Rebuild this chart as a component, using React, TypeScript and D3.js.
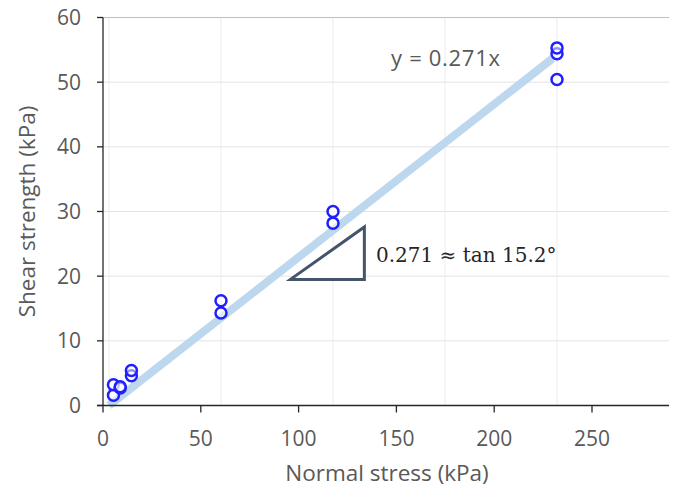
import React from "react";
import * as d3 from "d3";

// Measured normal stress (kPa) and shear strength (kPa)
const normalStress = [2, 2, 5, 5, 10, 10, 50, 50, 100, 100, 200, 200, 200];
const shearStrength = [1.6, 3.2, 2.7, 2.9, 4.6, 5.4, 14.3, 16.2, 28.2, 30.0, 50.4, 54.4, 55.3];
const slope = 0.271;
const fitRange = [0, 198];
const xTicks = [0, 50, 100, 150, 200, 250];
const yTicks = [0, 10, 20, 30, 40, 50, 60];
const dataGrid = [0, 50, 100, 150, 200];
// slope triangle annotation (data units)
const triX = [81, 114];
const triY = [19.5, 27.6];

const W = 688;
const H = 491;

export default function App() {
  // axis labelling scale
  const xAxis = d3.scaleLinear().domain([0, 250]).range([103, 592]);
  // scale of the plotted data
  const x = d3.scaleLinear().domain([0, 200]).range([109, 557]);
  const y = d3.scaleLinear().domain([0, 60]).range([405.5, 17.5]);

  const fit = d3
    .line<number>()
    .x((d) => x(d))
    .y((d) => y(slope * d));

  const tri = d3.line<[number, number]>().x((d) => x(d[0])).y((d) => y(d[1]));
  const triPts: [number, number][] = [
    [triX[0], triY[0]],
    [triX[1], triY[0]],
    [triX[1], triY[1]],
  ];

  const gray = "#595959";
  const font = "'Open Sans', sans-serif";

  return (
    <svg width={W} height={H} style={{ position: "absolute", left: 0, top: 0, background: "#fff" }}>
      {/* gridlines */}
      {yTicks.map((t) => (
        <line key={"gy" + t} x1={xAxis(0)} x2={x(250)} y1={y(t)} y2={y(t)} stroke="#e3e3e3" strokeWidth={1} />
      ))}
      {dataGrid.map((t) => (
        <line key={"gx" + t} x1={x(t)} x2={x(t)} y1={y(60)} y2={y(0)} stroke="#ececec" strokeWidth={1} />
      ))}
      <line x1={xAxis(0)} x2={x(250)} y1={y(60)} y2={y(60)} stroke="#bfbfbf" strokeWidth={1} />

      {/* trend line */}
      <path d={fit(fitRange) || ""} stroke="#bdd7ee" strokeWidth={8} fill="none" />

      {/* points */}
      {normalStress.map((v, i) => (
        <circle
          key={i}
          cx={x(v)}
          cy={y(shearStrength[i])}
          r={5.5}
          fill="#ffffff"
          fillOpacity={0.5}
          stroke="#1f1fff"
          strokeWidth={2.5}
        />
      ))}

      {/* axes */}
      <line x1={xAxis(0)} x2={xAxis(0)} y1={y(60)} y2={y(0)} stroke="#262626" strokeWidth={1.3} />
      <line x1={xAxis(0) - 6} x2={x(250)} y1={y(0)} y2={y(0)} stroke="#262626" strokeWidth={1.3} />
      {yTicks.map((t) => (
        <g key={"yt" + t}>
          <line x1={xAxis(0) - 6} x2={xAxis(0)} y1={y(t)} y2={y(t)} stroke="#262626" strokeWidth={1.3} />
          <text x={81} y={y(t)} dy="0.35em" textAnchor="end" fontFamily={font} fontSize={21} fill={gray}>
            {t}
          </text>
        </g>
      ))}
      {xTicks.map((t) => (
        <g key={"xt" + t}>
          <line x1={xAxis(t)} x2={xAxis(t)} y1={y(0)} y2={y(0) + 7} stroke="#262626" strokeWidth={1.3} />
          <text x={xAxis(t)} y={446} textAnchor="middle" fontFamily={font} fontSize={21} fill={gray}>
            {t}
          </text>
        </g>
      ))}

      {/* axis titles */}
      <text x={387} y={481} textAnchor="middle" fontFamily={font} fontSize={22.5} fill={gray}>
        Normal stress (kPa)
      </text>
      <text
        transform={`translate(35,${y(30)}) rotate(-90)`}
        textAnchor="middle"
        fontFamily={font}
        fontSize={22.5}
        fill={gray}
      >
        Shear strength (kPa)
      </text>

      {/* equation */}
      <text x={391} y={66} fontFamily={font} fontSize={22} letterSpacing={0.7} fill={gray}>
        y = 0.271x
      </text>

      {/* slope triangle */}
      <path d={(tri(triPts) || "") + "Z"} fill="#ffffff" stroke="#44546a" strokeWidth={3} strokeLinejoin="miter" />
      <text x={376} y={262} fontFamily="'DejaVu Serif', serif" fontSize={20} fill="#262626">
        0.271 ≈ tan 15.2°
      </text>
    </svg>
  );
}
